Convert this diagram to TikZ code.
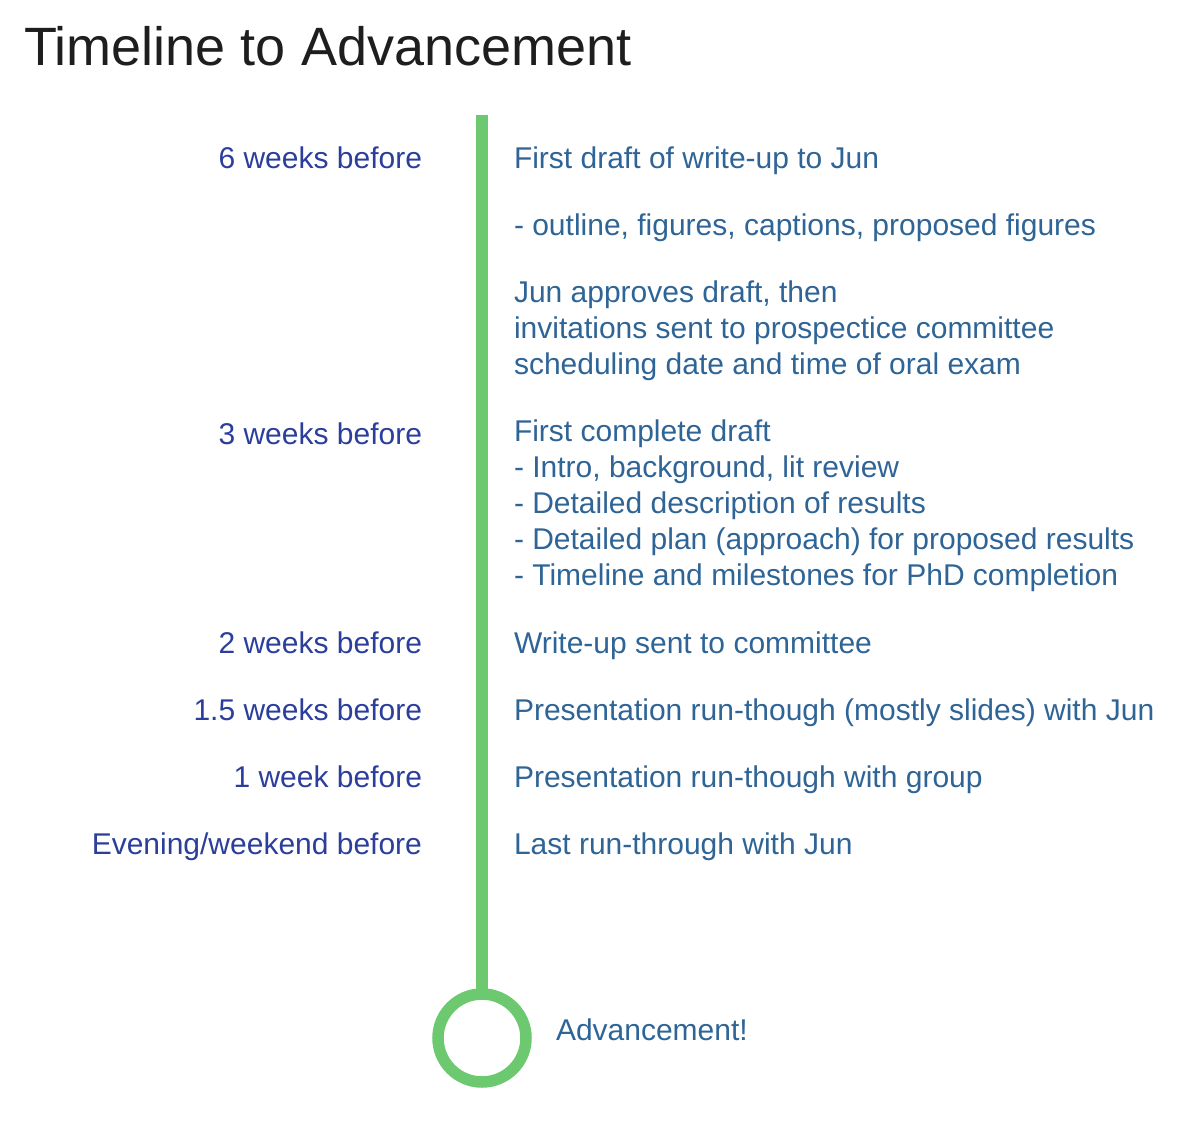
\documentclass[tikz,border=0pt]{standalone}
\usepackage{fontspec}
\setmainfont{Liberation Sans}
\definecolor{railgreen}{RGB}{108,201,112}
\definecolor{whencol}{RGB}{43,62,155}
\definecolor{whatcol}{RGB}{46,100,150}
\definecolor{titlecol}{RGB}{30,30,30}
\begin{document}
\begin{tikzpicture}[x=1pt,y=-1pt,
  every node/.style={inner sep=0pt,outer sep=0pt},
  when/.style={anchor=base east,text=whencol,font=\fontsize{30}{36}\selectfont},
  what/.style={anchor=base west,text=whatcol,font=\fontsize{30}{36}\selectfont},
  rail/.style={draw=railgreen,line width=11.5pt}]
\useasboundingbox (0,0) rectangle (1200,1120);

% title
\node[anchor=base west,text=titlecol,font=\fontsize{54}{60}\selectfont] (title) at (24,65) {Timeline to Advancement};

% timeline rail and end marker
\coordinate (railtop) at (482,115);
\node[rail,circle,minimum size=88pt,inner sep=0pt] (goal) at (482,1038) {};
\draw[rail] (railtop) -- (goal.north);
\node[what] (goaltext) at (556,1040) {Advancement!};

% time labels
\node[when] (w6) at (422,168) {6 weeks before};
\node[when] (w3) at (422,444) {3 weeks before};
\node[when] (w2) at (422,653) {2 weeks before};
\node[when] (w15) at (422,720) {1.5 weeks before};
\node[when] (w1) at (422,787) {1 week before};
\node[when] (we) at (422,854) {Evening/weekend before};

% tasks
\node[what] (t1) at (514,168) {First draft of write-up to Jun};
\node[what] (t2) at (514,235) {- outline, figures, captions, proposed figures};
\node[what] (t3a) at (514,302) {Jun approves draft, then};
\node[what] (t3b) at (514,338) {invitations sent to prospectice committee};
\node[what] (t3c) at (514,374) {scheduling date and time of oral exam};
\node[what] (t4a) at (514,441) {First complete draft};
\node[what] (t4b) at (514,477) {- Intro, background, lit review};
\node[what] (t4c) at (514,513) {- Detailed description of results};
\node[what] (t4d) at (514,549) {- Detailed plan (approach) for proposed results};
\node[what] (t4e) at (514,585) {- Timeline and milestones for PhD completion};
\node[what] (t5) at (514,653) {Write-up sent to committee};
\node[what] (t6) at (514,720) {Presentation run-though (mostly slides) with Jun};
\node[what] (t7) at (514,787) {Presentation run-though with group};
\node[what] (t8) at (514,854) {Last run-through with Jun};
\end{tikzpicture}
\end{document}
